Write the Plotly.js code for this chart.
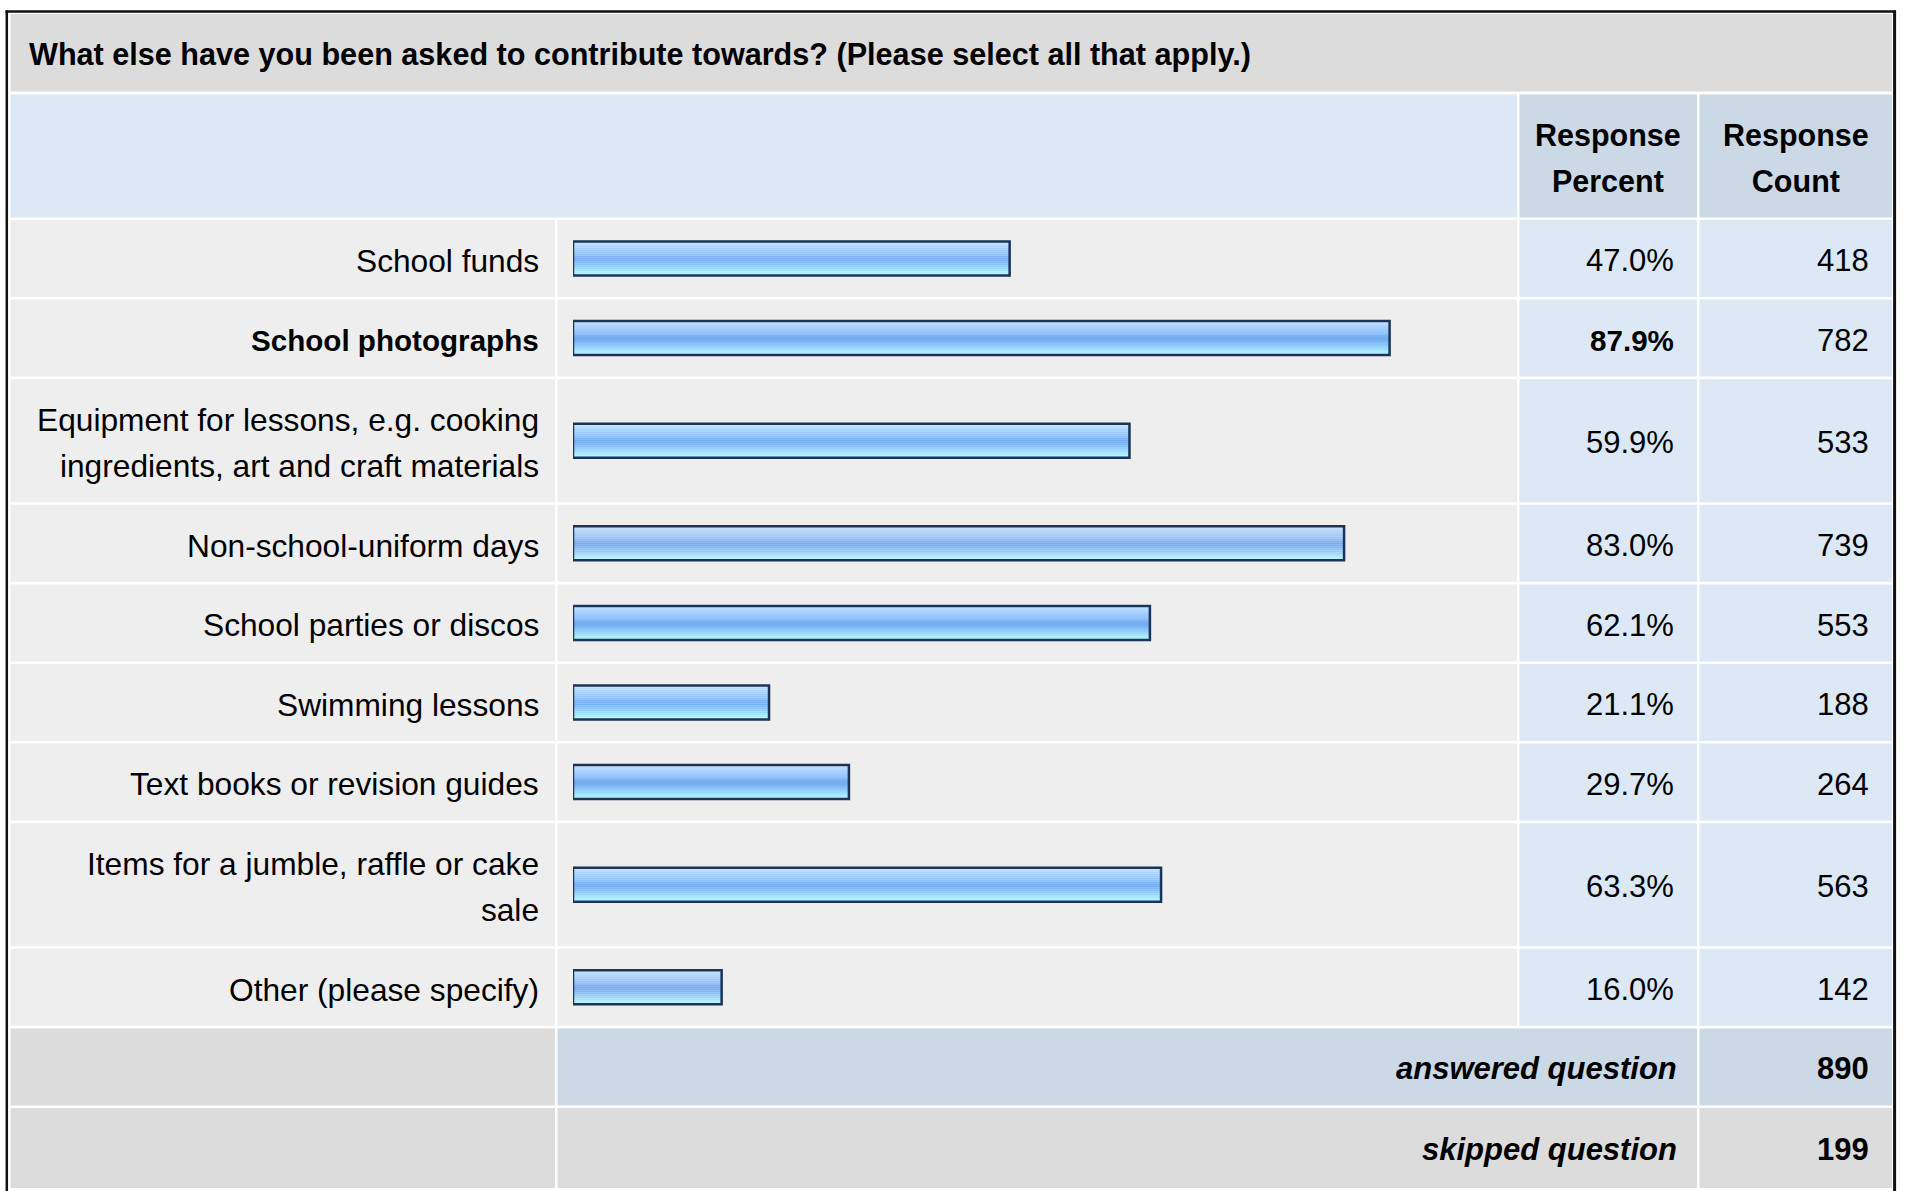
<!DOCTYPE html>
<html><head><meta charset="utf-8">
<script src="https://cdn.plot.ly/plotly-3.0.1.min.js"></script>
<style>html,body{margin:0;padding:0;background:#fff;} #chart{width:1907px;height:1191px;}</style>
</head><body><div id="chart"></div>
<script>
// ---------- data ----------
const question = "What else have you been asked to contribute towards? (Please select all that apply.)";
const headerPercent = "Response\nPercent";
const headerCount = "Response\nCount";
const categories = [
  "School funds",
  "School photographs",
  "Equipment for lessons, e.g. cooking\ningredients, art and craft materials",
  "Non-school-uniform days",
  "School parties or discos",
  "Swimming lessons",
  "Text books or revision guides",
  "Items for a jumble, raffle or cake\nsale",
  "Other (please specify)"
];
const percents = [47.0, 87.9, 59.9, 83.0, 62.1, 21.1, 29.7, 63.3, 16.0];
const counts = [418, 782, 533, 739, 553, 188, 264, 563, 142];
const answeredLabel = "answered question";
const answeredCount = 890;
const skippedLabel = "skipped question";
const skippedCount = 199;

// ---------- layout / style ----------
const W = 1907, H = 1191;
const FONT = "Liberation Sans, Arial, Helvetica, sans-serif";
const px = v => v / W;
const COL = {labelL: 10.5, labelR: 555, barL: 557.5, barR: 1517, pctL: 1519.5, pctR: 1697, cntL: 1699.5, cntR: 1892};
const TITLE_Y = [14, 91.5], HEAD_Y = [94.5, 217.5];
const ROW_TOP = 220, GAP = 2.6, H1 = 77, H2 = 123;
const TEXT_DY = 2.2;
const C = {title: '#dcdcdc', head: '#dce8f6', headDark: '#cbd8e6', rowGray: '#eeeeee', rowBlue: '#dce8f6', border: '#111111'};
const BAR_H = 34, NB = 17;
const LABEL_SIZE = 31.7, BOLD_ROW_SIZE = 29.6, NUM_SIZE = 31;
const gradStops = [[0,'#d2e9ff'],[0.1,'#b4d9ff'],[0.25,'#a0ccfe'],[0.38,'#90c1fa'],[0.47,'#74acf1'],[0.57,'#76aef2'],[0.67,'#88c1f7'],[0.78,'#99d3fb'],[0.89,'#a9e9fe'],[1,'#b4ffff']];

function hex2rgb(h){return [1,3,5].map(i=>parseInt(h.slice(i,i+2),16));}
function gradAt(t){
  for(let i=0;i<gradStops.length-1;i++){
    const [a,ca]=gradStops[i],[b,cb]=gradStops[i+1];
    if(t>=a&&t<=b){const f=(t-a)/(b-a);const A=hex2rgb(ca),B=hex2rgb(cb);
      return 'rgb('+A.map((v,j)=>Math.round(v+(B[j]-v)*f)).join(',')+')';}
  }
  return gradStops[gradStops.length-1][1];
}

// row geometry
const rows = [];
let yCursor = ROW_TOP;
categories.forEach(c => {
  const h = c.includes('\n') ? H2 : H1;
  rows.push({top: yCursor, bot: yCursor + h, mid: yCursor + h / 2});
  yCursor += h + GAP;
});
const ansRow = {top: yCursor, bot: yCursor + H1, mid: yCursor + H1 / 2}; yCursor += H1 + GAP;
const skpRow = {top: yCursor, bot: yCursor + 80, mid: yCursor + 40};
const centers = rows.map(r => r.mid);

// shapes
const shapes = [];
function rect(x0, x1, y0, y1, color){
  shapes.push({type:'rect', xref:'paper', yref:'y', x0:px(x0), x1:px(x1), y0, y1, fillcolor:color, line:{width:0}, layer:'below'});
}
rect(COL.labelL, COL.cntR, TITLE_Y[0], TITLE_Y[1], C.title);
rect(COL.labelL, COL.barR, HEAD_Y[0], HEAD_Y[1], C.head);
rect(COL.pctL, COL.pctR, HEAD_Y[0], HEAD_Y[1], C.headDark);
rect(COL.cntL, COL.cntR, HEAD_Y[0], HEAD_Y[1], C.headDark);
rows.forEach(r => {
  rect(COL.labelL, COL.labelR, r.top, r.bot, C.rowGray);
  rect(COL.barL, COL.barR, r.top, r.bot, C.rowGray);
  rect(COL.pctL, COL.pctR, r.top, r.bot, C.rowBlue);
  rect(COL.cntL, COL.cntR, r.top, r.bot, C.rowBlue);
});
rect(COL.labelL, COL.labelR, ansRow.top, ansRow.bot, C.title);
rect(COL.barL, COL.pctR, ansRow.top, ansRow.bot, C.headDark);
rect(COL.cntL, COL.cntR, ansRow.top, ansRow.bot, C.headDark);
rect(COL.labelL, COL.labelR, skpRow.top, skpRow.bot, C.title);
rect(COL.barL, COL.pctR, skpRow.top, skpRow.bot, C.title);
rect(COL.cntL, COL.cntR, skpRow.top, skpRow.bot, C.title);
// outer frame (top, left, right)
function line(x0, y0, x1, y1, w){
  shapes.push({type:'line', xref:'paper', yref:'y', x0:px(x0), x1:px(x1), y0, y1, line:{color:C.border, width:w}, layer:'above'});
}
line(5.5, 11.5, 1896, 11.5, 2.5);
line(6.8, 10.5, 6.8, H + 2, 2.5);
line(1894.6, 10.5, 1894.6, H + 2, 3);

// annotations
const annotations = [];
function ann(x, y, text, xanchor, size){
  annotations.push({xref:'paper', yref:'y', x:px(x), y, text, xanchor, yanchor:'middle',
    showarrow:false, font:{family:FONT, size:size, color:'#000'}, align:xanchor === 'center' ? 'center' : xanchor});
}
// multi-line text with 46px line pitch: outer font sets line pitch, inner span sets glyph size
function multiline(s, glyph, bold){
  return s.split('\n').map(l => '<span style="font-size:' + glyph + 'px">' + (bold ? '<b>' + l + '</b>' : l) + '</span>').join('<br>');
}
const PITCH_FONT = 46 / 1.3;
ann(27, 54, '<b>' + question + '</b>', 'left', 30.6);
ann((COL.pctL + COL.pctR) / 2, 158, multiline(headerPercent, 30.5, true), 'center', PITCH_FONT);
ann((COL.cntL + COL.cntR) / 2, 158, multiline(headerCount, 30.5, true), 'center', PITCH_FONT);
const maxIdx = percents.indexOf(Math.max(...percents));
categories.forEach((c, i) => {
  const bold = i === maxIdx;
  const y = centers[i] + TEXT_DY;
  if (c.includes('\n')) ann(540.5, y, multiline(c, bold ? BOLD_ROW_SIZE : LABEL_SIZE, bold), 'right', PITCH_FONT);
  else ann(540.5, y, bold ? '<b>' + c + '</b>' : c, 'right', bold ? BOLD_ROW_SIZE : LABEL_SIZE);
  const pt = percents[i].toFixed(1) + '%';
  ann(1675.5, y, bold ? '<b>' + pt + '</b>' : pt, 'right', bold ? BOLD_ROW_SIZE : NUM_SIZE);
  ann(1870.5, y, String(counts[i]), 'right', NUM_SIZE);
});
ann(1678.5, ansRow.mid + 1.2, '<b><i>' + answeredLabel + '</i></b>', 'right', 31);
ann(1870.5, ansRow.mid + 1.2, '<b>' + answeredCount + '</b>', 'right', 31);
ann(1678.5, skpRow.mid + 1.2, '<b><i>' + skippedLabel + '</i></b>', 'right', 31);
ann(1870.5, skpRow.mid + 1.2, '<b>' + skippedCount + '</b>', 'right', 31);

// bar traces: gradient bands + outline
const traces = [];
const bandH = BAR_H / NB;
for (let k = 0; k < NB; k++) {
  traces.push({type:'bar', orientation:'h', x:percents, y:centers, base:0, width:bandH, offset:-BAR_H/2 + k*bandH,
    marker:{color:gradAt((k + 0.5) / NB), line:{width:0}}, hoverinfo:'skip', showlegend:false});
}
traces.push({type:'bar', orientation:'h', x:percents, y:centers, base:0, width:BAR_H, offset:-BAR_H/2,
  marker:{color:'rgba(0,0,0,0)', line:{color:'#1b3458', width:2.5}}, text:categories, hoverinfo:'skip', textposition:'none', showlegend:false});

const layout = {
  width:W, height:H, margin:{l:0, r:0, t:0, b:0}, paper_bgcolor:'#ffffff', plot_bgcolor:'rgba(0,0,0,0)',
  barmode:'overlay', showlegend:false, font:{family:FONT},
  xaxis:{domain:[px(573), px(1502)], range:[0, 100], visible:false, fixedrange:true},
  yaxis:{domain:[0, 1], range:[H, 0], visible:false, fixedrange:true},
  shapes, annotations
};
Plotly.newPlot('chart', traces, layout, {displayModeBar:false, staticPlot:true});
</script>
</body></html>
